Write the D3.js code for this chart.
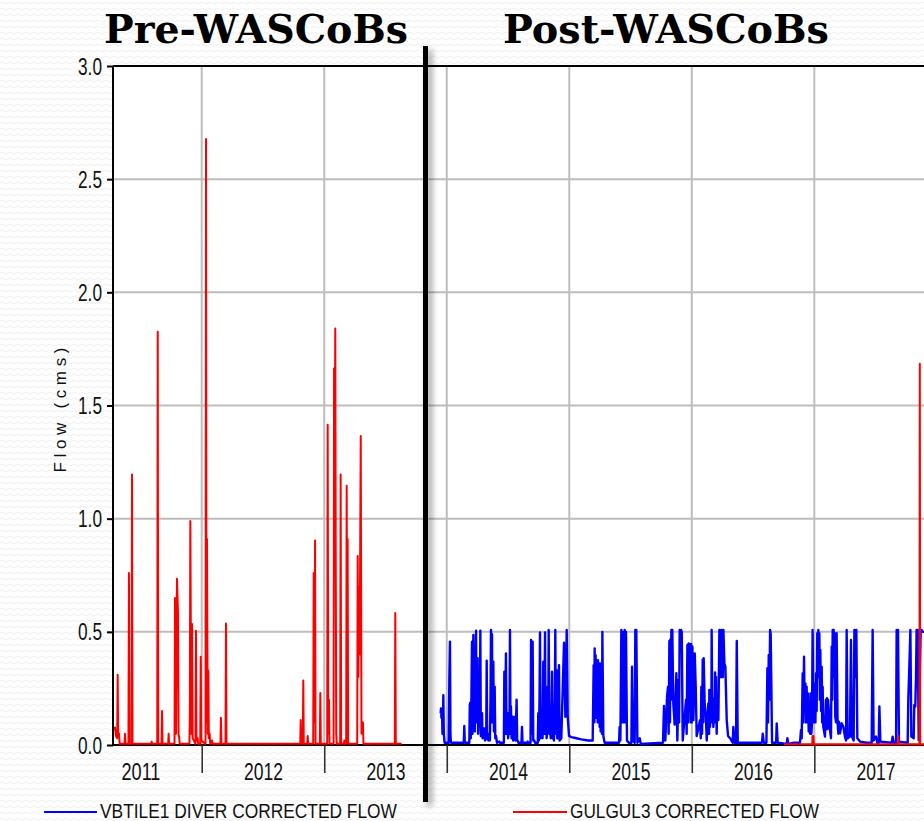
<!DOCTYPE html>
<html><head><meta charset="utf-8">
<script src="https://cdn.jsdelivr.net/npm/d3@7"></script>
<style>html,body{margin:0;padding:0;background:#fff;overflow:hidden}</style>
</head><body>
<svg id="chart" width="924" height="821"></svg>
<script>
// ---------------- DATA ----------------
const titles = ["Pre-WASCoBs", "Post-WASCoBs"];
const yAxisTitle = "Flow (cms)";
const legendLabels = ["VBTILE1 DIVER CORRECTED FLOW", "GULGUL3 CORRECTED FLOW"];
const yearBoundaries = [2012, 2013, 2014, 2015, 2016, 2017];
const yearLabels = [2011, 2012, 2013, 2014, 2015, 2016, 2017];
const yTicks = [0, 0.5, 1.0, 1.5, 2.0, 2.5, 3.0];

// GULGUL3 corrected flow, pre-WASCoBs  [decimal year, cms]
const redPre = [
[2011.270,0.07],[2011.292,0.077],[2011.300,0.04],[2011.310,0.03],[2011.314,0.31],[2011.318,0.04],[2011.325,0.05],[2011.330,0.005],
[2011.370,0.005],[2011.374,0.05],[2011.378,0.005],
[2011.402,0.005],[2011.406,0.76],[2011.410,0.005],
[2011.427,0.005],[2011.431,1.195],[2011.435,0.005],
[2011.588,0.005],[2011.592,0.015],[2011.596,0.005],
[2011.637,0.005],[2011.641,1.826],[2011.645,0.005],
[2011.672,0.005],[2011.676,0.15],[2011.680,0.005],
[2011.726,0.005],[2011.730,0.05],[2011.734,0.005],
[2011.778,0.005],[2011.782,0.65],[2011.790,0.05],[2011.798,0.735],[2011.806,0.59],[2011.811,0.04],[2011.815,0.04],[2011.820,0.005],
[2011.900,0.005],[2011.903,0.15],[2011.907,0.99],[2011.915,0.05],[2011.921,0.535],[2011.926,0.03],
[2011.949,0.005],[2011.953,0.505],[2011.957,0.02],[2011.967,0.03],[2011.971,0.005],
[2011.988,0.005],[2011.992,0.39],[2011.996,0.02],
[2012.031,0.005],[2012.035,2.678],[2012.039,0.1],[2012.043,0.91],[2012.049,0.05],[2012.054,0.33],[2012.058,0.03],[2012.065,0.05],[2012.069,0.005],[2012.084,0.02],[2012.088,0.005],
[2012.153,0.005],[2012.157,0.12],[2012.161,0.005],
[2012.194,0.005],[2012.198,0.537],[2012.202,0.005],
[2012.804,0.005],[2012.808,0.11],[2012.812,0.005],
[2012.825,0.005],[2012.829,0.285],[2012.833,0.005],
[2012.861,0.005],[2012.865,0.04],[2012.869,0.005],
[2012.910,0.005],[2012.914,0.76],[2012.920,0.1],[2012.925,0.903],[2012.929,0.005],
[2012.964,0.005],[2012.968,0.23],[2012.972,0.005],
[2013.024,0.005],[2013.028,1.415],[2013.033,0.05],[2013.039,0.2],[2013.043,0.005],
[2013.076,0.005],[2013.080,1.663],[2013.085,1.2],[2013.090,1.84],[2013.094,0.8],[2013.098,0.05],[2013.102,0.005],
[2013.130,0.005],[2013.134,1.195],[2013.138,0.005],
[2013.160,0.005],[2013.164,0.02],[2013.168,0.005],
[2013.179,0.005],[2013.183,1.145],[2013.187,0.5],[2013.191,0.91],[2013.195,0.005],
[2013.269,0.005],[2013.273,0.835],[2013.278,0.3],[2013.284,0.70],[2013.289,0.4],[2013.298,1.365],[2013.304,0.05],[2013.316,0.1],[2013.320,0.005],
[2013.576,0.005],[2013.580,0.583],[2013.584,0.005],
[2013.632,0.005]
];

// GULGUL3 corrected flow, post-WASCoBs
const redPost = [
[2016.753,0.003],[2016.983,0.003],[2016.985,0.04],[2016.988,0.003],[2016.993,0.04],[2016.996,0.003],
[2017.684,0.003],[2017.686,0.04],[2017.689,0.003],
[2017.858,0.003],[2017.861,1.684],[2017.864,0.003],[2017.950,0.003]
];

// VBTILE1 diver corrected flow
const blue2014 = [
[2013.950,0.14],[2013.953,0.162],[2013.957,0.12],[2013.961,0.16],[2013.965,0.05],[2013.969,0.12],[2013.972,0.22],[2013.976,0.05],[2013.982,0.01],
[2014.016,0.01],[2014.021,0.29],[2014.026,0.456],[2014.030,0.05],[2014.034,0.01],
[2014.139,0.01],[2014.143,0.084],[2014.147,0.01],
[2014.184,0.01],[2014.188,0.18],[2014.192,0.187],[2014.196,0.03],[2014.200,0.15],[2014.206,0.456],[2014.210,0.05],[2014.214,0.2],[2014.217,0.486],[2014.221,0.08],[2014.225,0.21],[2014.229,0.06],[2014.234,0.3],[2014.239,0.505],[2014.243,0.1],[2014.247,0.2],[2014.252,0.383],[2014.256,0.05],[2014.261,0.15],[2014.266,0.27],[2014.270,0.08],[2014.274,0.505],[2014.278,0.04],[2014.283,0.1],[2014.288,0.14],[2014.292,0.03],[2014.300,0.05],[2014.307,0.073],[2014.312,0.02],[2014.322,0.03],[2014.326,0.373],[2014.330,0.03],[2014.340,0.02],[2014.347,0.05],[2014.352,0.02],[2014.357,0.2],[2014.361,0.508],[2014.365,0.1],[2014.369,0.49],[2014.373,0.1],[2014.380,0.368],[2014.385,0.06],[2014.391,0.258],[2014.396,0.03],[2014.402,0.04],[2014.410,0.01],[2014.429,0.015],[2014.433,0.01],
[2014.466,0.01],[2014.470,0.324],[2014.474,0.05],[2014.479,0.2],[2014.483,0.405],[2014.488,0.05],[2014.497,0.14],[2014.501,0.03],[2014.512,0.1],[2014.516,0.508],[2014.520,0.05],[2014.524,0.17],[2014.529,0.03],[2014.538,0.125],[2014.542,0.02],[2014.557,0.125],[2014.561,0.02],[2014.570,0.2],[2014.575,0.02],[2014.579,0.02],[2014.584,0.01],
[2014.610,0.01],[2014.614,0.08],[2014.618,0.01],
[2014.656,0.01],[2014.660,0.015],[2014.664,0.01],
[2014.684,0.01],[2014.688,0.464],[2014.693,0.05],[2014.701,0.456],[2014.706,0.02],[2014.715,0.02],[2014.720,0.01],
[2014.743,0.01],[2014.747,0.14],[2014.752,0.02],[2014.757,0.2],[2014.761,0.497],[2014.766,0.03],[2014.777,0.11],[2014.782,0.03],[2014.788,0.368],[2014.793,0.05],[2014.798,0.2],[2014.802,0.497],[2014.806,0.05],[2014.810,0.258],[2014.815,0.03],[2014.828,0.1],[2014.832,0.508],[2014.837,0.05],[2014.843,0.11],[2014.848,0.03],[2014.855,0.15],[2014.859,0.324],[2014.864,0.03],[2014.870,0.04],[2014.875,0.02],[2014.882,0.2],[2014.886,0.508],[2014.890,0.05],[2014.897,0.331],[2014.902,0.03],[2014.910,0.03],[2014.916,0.353],[2014.921,0.02]
];
const blue2015 = [
[2014.935,0.03],[2014.957,0.452],[2014.968,0.125],[2014.979,0.508],[2014.987,0.125],[2014.998,0.04],[2015.017,0.035],[2015.058,0.03],[2015.098,0.025],[2015.153,0.02],[2015.191,0.02],
[2015.199,0.353],[2015.205,0.1],[2015.207,0.427],[2015.213,0.15],[2015.215,0.397],[2015.221,0.12],[2015.226,0.368],[2015.232,0.1],[2015.234,0.375],[2015.240,0.1],[2015.243,0.346],[2015.248,0.08],[2015.251,0.36],[2015.256,0.06],[2015.262,0.31],[2015.267,0.05],[2015.270,0.5],[2015.278,0.04],[2015.289,0.01],
[2015.406,0.01],[2015.411,0.08],[2015.417,0.02],[2015.425,0.508],[2015.430,0.1],[2015.439,0.5],[2015.444,0.1],[2015.452,0.508],[2015.458,0.1],[2015.463,0.5],[2015.471,0.02],[2015.485,0.01],
[2015.507,0.01],[2015.512,0.346],[2015.520,0.02],[2015.534,0.01],[2015.539,0.508],[2015.545,0.1],[2015.547,0.508],[2015.556,0.01],[2015.575,0.03],[2015.583,0.005],
[2015.765,0.01],[2015.773,0.172],[2015.784,0.02],[2015.798,0.215],[2015.806,0.258],[2015.811,0.05],[2015.817,0.46],[2015.822,0.1],[2015.825,0.466],[2015.830,0.2],[2015.833,0.508],[2015.838,0.3],[2015.841,0.508],[2015.849,0.184],[2015.860,0.09],[2015.874,0.317],[2015.882,0.02],[2015.893,0.287],[2015.896,0.1],[2015.901,0.508],[2015.909,0.45],[2015.913,0.508],[2015.918,0.5],[2015.926,0.02]
];
const blue2016 = [
[2015.953,0.2],[2015.958,0.05],[2015.964,0.442],[2015.969,0.1],[2015.975,0.449],[2015.980,0.15],[2015.986,0.437],[2015.991,0.1],[2015.994,0.446],[2015.999,0.1],[2016.005,0.434],[2016.013,0.11],[2016.024,0.405],[2016.032,0.258],[2016.040,0.04],
[2016.067,0.11],[2016.073,0.03],[2016.078,0.258],[2016.084,0.05],[2016.089,0.378],[2016.094,0.1],[2016.097,0.383],[2016.105,0.184],[2016.114,0.135],[2016.122,0.02],[2016.135,0.184],[2016.141,0.05],[2016.143,0.243],[2016.149,0.08],[2016.154,0.236],[2016.160,0.1],[2016.162,0.508],[2016.168,0.1],[2016.171,0.206],[2016.176,0.08],[2016.182,0.169],[2016.187,0.1],[2016.190,0.32],[2016.195,0.1],[2016.198,0.301],[2016.203,0.05],[2016.209,0.221],[2016.217,0.11],[2016.225,0.508],[2016.229,0.3],[2016.233,0.505],[2016.237,0.3],[2016.241,0.508],[2016.245,0.3],[2016.250,0.505],[2016.254,0.3],[2016.258,0.508],[2016.266,0.36],[2016.274,0.346],[2016.285,0.11],[2016.296,0.04],[2016.312,0.03],[2016.334,0.01],[2016.339,0.08],[2016.348,0.01],
[2016.361,0.01],[2016.367,0.46],[2016.375,0.01],
[2016.573,0.01],[2016.579,0.05],[2016.587,0.01],
[2016.609,0.01],[2016.617,0.339],[2016.622,0.1],[2016.628,0.398],[2016.633,0.2],[2016.639,0.508],[2016.644,0.49],[2016.655,0.01],
[2016.688,0.01],[2016.693,0.095],[2016.701,0.01],
[2016.775,0.005],[2016.780,0.03],[2016.788,0.005],[2016.834,0.01]
];
const blue2017 = [
[2016.883,0.01],[2016.891,0.066],[2016.897,0.03],[2016.905,0.317],[2016.910,0.1],[2016.916,0.39],[2016.921,0.15],[2016.927,0.272],[2016.932,0.1],[2016.937,0.258],[2016.943,0.1],[2016.948,0.228],[2016.954,0.06],[2016.959,0.125],[2016.965,0.05],[2016.970,0.228],[2016.976,0.05],[2016.981,0.096],[2016.986,0.508],[2016.992,0.1],[2016.997,0.272],[2017.001,0.15],[2017.005,0.258],[2017.009,0.1],[2017.014,0.317],[2017.019,0.15],[2017.024,0.494],[2017.028,0.3],[2017.033,0.508],[2017.037,0.3],[2017.041,0.494],[2017.045,0.2],[2017.049,0.42],[2017.055,0.15],[2017.060,0.346],[2017.064,0.1],[2017.068,0.258],[2017.073,0.081],[2017.087,0.037],[2017.095,0.2],[2017.099,0.07],[2017.103,0.207],[2017.107,0.07],[2017.112,0.2],[2017.120,0.14],[2017.128,0.066],[2017.136,0.03],[2017.142,0.435],[2017.146,0.2],[2017.150,0.508],[2017.154,0.3],[2017.158,0.508],[2017.162,0.3],[2017.166,0.494],[2017.171,0.125],[2017.177,0.1],[2017.182,0.494],[2017.190,0.096],[2017.196,0.05],[2017.201,0.103],[2017.210,0.052],[2017.223,0.096],[2017.237,0.081],[2017.250,0.037],[2017.259,0.02],[2017.264,0.508],[2017.272,0.03],[2017.291,0.037],[2017.299,0.464],[2017.307,0.037],[2017.321,0.02],[2017.327,0.508],[2017.331,0.3],[2017.335,0.494],[2017.339,0.3],[2017.343,0.508],[2017.351,0.03],[2017.373,0.015],[2017.427,0.01],[2017.468,0.01],[2017.476,0.508],[2017.484,0.02],[2017.503,0.037],[2017.514,0.01],[2017.525,0.01],[2017.531,0.17],[2017.539,0.015],[2017.631,0.01],[2017.639,0.037],[2017.648,0.01],[2017.667,0.01],[2017.672,0.508],[2017.678,0.3],[2017.683,0.508],[2017.691,0.015],[2017.762,0.01],[2017.767,0.2],[2017.775,0.339],[2017.784,0.508],[2017.792,0.037],[2017.811,0.03],[2017.816,0.177],[2017.824,0.17],[2017.830,0.3],[2017.835,0.508],[2017.839,0.3],[2017.844,0.508],[2017.852,0.022],[2017.868,0.508],[2017.876,0.508],[2017.884,0.5],[2017.895,0.5],[2017.950,0.5]
];

// ---------------- LAYOUT ----------------
const W = 924, H = 821;
const plot = {left: 113, top: 66, bottom: 745, right: 924};
const SANS = "'Liberation Sans',Arial,sans-serif";
const blueColor = "#0000ff", redColor = "#ff0000";

const svg = d3.select("#chart");
const defs = svg.append("defs");

// subtle wavy background
const pat = defs.append("pattern").attr("id","wave").attr("patternUnits","userSpaceOnUse")
  .attr("width",8).attr("height",6);
pat.append("rect").attr("width",8).attr("height",6).attr("fill","#ffffff");
pat.append("path").attr("d","M0 3 Q2 1 4 3 T8 3").attr("fill","none").attr("stroke","#efefef").attr("stroke-width",1);
svg.append("rect").attr("width",W).attr("height",H).attr("fill","url(#wave)");

// plot area
svg.append("rect").attr("x",plot.left).attr("y",plot.top)
  .attr("width",plot.right-plot.left).attr("height",plot.bottom-plot.top).attr("fill","#ffffff");

const x = d3.scaleLinear().domain([2011, 2018]).range([79.2, 79.2 + 7*122.52]);
const y = d3.scaleLinear().domain([0, 3]).range([plot.bottom, plot.top]);

// grid
svg.append("g").selectAll("line").data(yearBoundaries).join("line")
  .attr("x1",d=>x(d)).attr("x2",d=>x(d)).attr("y1",plot.top).attr("y2",plot.bottom)
  .attr("stroke","#bdbdbd").attr("stroke-width",2);
svg.append("g").selectAll("line").data(yTicks.filter(v=>v>0 && v<3)).join("line")
  .attr("x1",plot.left).attr("x2",plot.right).attr("y1",d=>y(d)).attr("y2",d=>y(d))
  .attr("stroke","#bdbdbd").attr("stroke-width",2);

// top border
svg.append("line").attr("x1",plot.left).attr("x2",plot.right).attr("y1",plot.top).attr("y2",plot.top)
  .attr("stroke","#000").attr("stroke-width",2);

// y axis
const yAxis = svg.append("g").attr("transform",`translate(${plot.left},0)`)
  .call(d3.axisLeft(y).tickValues(yTicks).tickFormat(d3.format(".1f")).tickSize(6).tickPadding(5));
yAxis.select(".domain").attr("stroke","#000").attr("stroke-width",2).attr("d",`M0,${plot.top}V${plot.bottom}`);
yAxis.selectAll(".tick line").attr("stroke","#000").attr("stroke-width",2);
yAxis.selectAll(".tick text").attr("font-family",SANS).attr("font-size",23).attr("fill","#111")
  .attr("textLength",24).attr("lengthAdjust","spacingAndGlyphs").attr("dy","0.35em");

// x axis (year boundary ticks)
const xAxis = svg.append("g").attr("transform",`translate(0,${plot.bottom})`)
  .call(d3.axisBottom(x).tickValues(yearBoundaries).tickFormat("").tickSize(28));
xAxis.select(".domain").attr("stroke","#000").attr("stroke-width",2).attr("d",`M${plot.left},0H${plot.right}`);
xAxis.selectAll(".tick line").attr("stroke","#333").attr("stroke-width",1.6);

// year labels centred in each year
const xLab = svg.append("g").attr("transform",`translate(0,${plot.bottom})`)
  .call(d3.axisBottom(x).tickValues(yearLabels.map(v=>v+0.5)).tickFormat(d=>String(Math.floor(d))).tickSize(0).tickPadding(19));
xLab.select(".domain").remove();
xLab.selectAll(".tick text").attr("font-family",SANS).attr("font-size",23).attr("fill","#111")
  .attr("textLength",39).attr("lengthAdjust","spacingAndGlyphs");

// clip for series
defs.append("clipPath").attr("id","clip").append("rect")
  .attr("x",plot.left+1).attr("y",plot.top-4).attr("width",plot.right-plot.left).attr("height",plot.bottom-plot.top+6);

const line = d3.line().x(d=>x(d[0])).y(d=>y(d[1]));
const series = svg.append("g").attr("clip-path","url(#clip)");
const blueAll = blue2014.concat(blue2015, blue2016, blue2017);
series.append("path").datum(blueAll).attr("d",line).attr("fill","none")
  .attr("stroke",blueColor).attr("stroke-width",2.4).attr("stroke-linejoin","round");
[redPre, redPost].forEach(s=>{
  series.append("path").datum(s).attr("d",line).attr("fill","none")
    .attr("stroke",redColor).attr("stroke-width",2).attr("stroke-linejoin","round");
});

// y axis title
svg.append("text").attr("transform","translate(66,410) rotate(-90)")
  .attr("text-anchor","middle").attr("font-family",SANS)
  .attr("font-size",17).attr("fill","#111").attr("textLength",125).attr("lengthAdjust","spacing")
  .text(yAxisTitle);

// section titles
const titleFont = "'DejaVu Serif',serif";
svg.append("text").attr("x",104).attr("y",43).attr("font-family",titleFont).attr("font-weight","bold")
  .attr("font-size",40).attr("fill","#000").attr("textLength",304).attr("lengthAdjust","spacingAndGlyphs").text(titles[0]);
svg.append("text").attr("x",503).attr("y",43).attr("font-family",titleFont).attr("font-weight","bold")
  .attr("font-size",40).attr("fill","#000").attr("textLength",326).attr("lengthAdjust","spacingAndGlyphs").text(titles[1]);

// divider with shadow
const f = defs.append("filter").attr("id","shadow").attr("filterUnits","userSpaceOnUse")
  .attr("x",400).attr("y",30).attr("width",60).attr("height",791);
f.append("feDropShadow").attr("dx",4).attr("dy",4).attr("stdDeviation",3).attr("flood-color","#000").attr("flood-opacity",0.4);
svg.append("rect").attr("x",423).attr("y",46).attr("width",5).attr("height",756)
  .attr("fill","#000").attr("filter","url(#shadow)");

// legend
const legend = [
  {label: legendLabels[0], color: blueColor, x0: 44, x1: 97, tx: 100, w: 297},
  {label: legendLabels[1], color: redColor, x0: 513, x1: 567, tx: 570, w: 249}
];
legend.forEach(l=>{
  svg.append("line").attr("x1",l.x0).attr("x2",l.x1).attr("y1",812).attr("y2",812)
    .attr("stroke",l.color).attr("stroke-width",2);
  svg.append("text").attr("x",l.tx).attr("y",818).attr("font-family",SANS)
    .attr("font-size",21).attr("fill","#111").attr("textLength",l.w).attr("lengthAdjust","spacingAndGlyphs")
    .text(l.label);
});
</script>
</body></html>
